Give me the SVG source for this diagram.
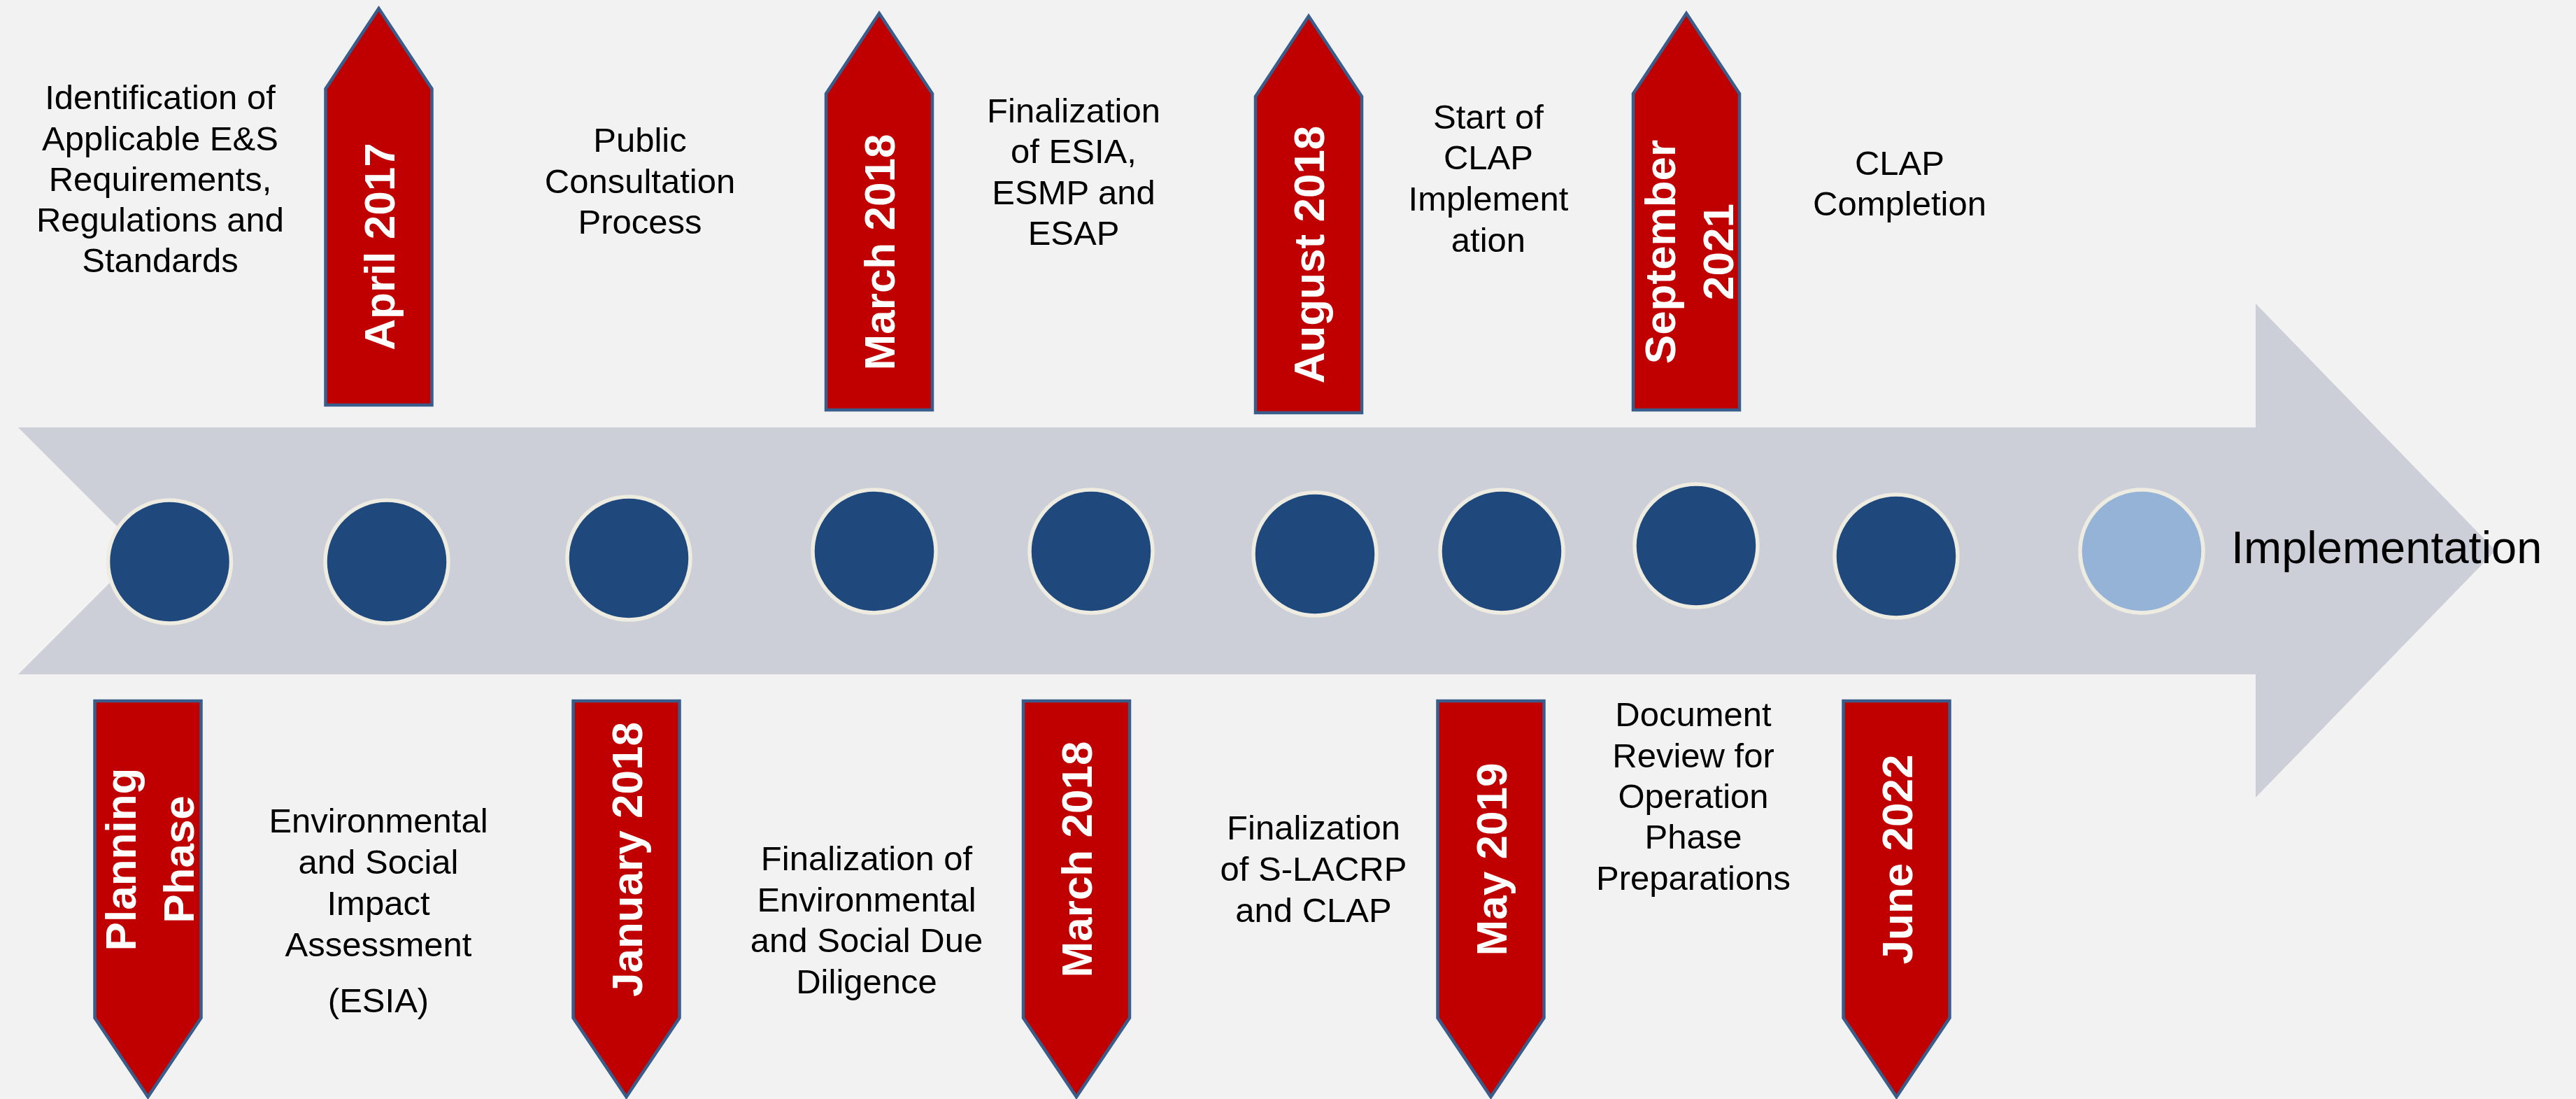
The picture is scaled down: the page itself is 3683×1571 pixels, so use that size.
<svg xmlns="http://www.w3.org/2000/svg" xmlns:xlink="http://www.w3.org/1999/xlink" width="3683" height="1571" viewBox="0 0 3683 1571">
  <style>
    .bg { fill: #F2F2F2; }
    .band { fill: #CCCFD8; }
    .dot { fill: #1F497D; stroke: #EEECE1; stroke-width: 5.5; }
    .dot-next { fill: #95B3D7; stroke: #EEECE1; stroke-width: 5.5; }
    .flag { fill: #C00000; stroke: #385D8A; stroke-width: 4.5; stroke-linejoin: miter; stroke-miterlimit: 10; }
    .date { font-family: "Liberation Sans", Arial, sans-serif; font-weight: bold; font-size: 62px; fill: #FFFFFF; text-anchor: middle; }
    .note { font-family: "Liberation Sans", Arial, sans-serif; font-size: 49px; fill: #000000; text-anchor: middle; }
    .goal { font-family: "Liberation Sans", Arial, sans-serif; font-size: 65px; fill: #000000; }
  </style>
  <defs>
    <!-- flag pointing up: tip at origin -->
    <path id="flag-up" d="M0,0 L76,115 L76,567 L-76,567 L-76,115 Z"/>
    <!-- flag pointing down: top edge at origin -->
    <path id="flag-down" d="M-76,0 L76,0 L76,453 L0,566 L-76,453 Z"/>
  </defs>

  <rect class="bg" x="0" y="0" width="3683" height="1571"/>

  <!-- timeline band with notched tail and arrow head -->
  <g id="connectors">
    <path id="timeline" class="band" d="M26,611 L3225,611 L3225,434 L3568,787 L3225,1140 L3225,964 L26,964 L202.5,787.5 Z"/>
  </g>

  <!-- milestone dots -->
  <g id="dot-1"><circle class="dot" cx="242.5" cy="803" r="88"/></g>
  <g id="dot-2"><circle class="dot" cx="553" cy="803" r="88"/></g>
  <g id="dot-3"><circle class="dot" cx="899" cy="798" r="88"/></g>
  <g id="dot-4"><circle class="dot" cx="1250" cy="788" r="88"/></g>
  <g id="dot-5"><circle class="dot" cx="1560" cy="788" r="88"/></g>
  <g id="dot-6"><circle class="dot" cx="1880" cy="792" r="88"/></g>
  <g id="dot-7"><circle class="dot" cx="2147" cy="788" r="88"/></g>
  <g id="dot-8"><circle class="dot" cx="2425" cy="780" r="88"/></g>
  <g id="dot-9"><circle class="dot" cx="2711" cy="795" r="88"/></g>
  <g id="dot-10"><circle class="dot-next" cx="3062" cy="788" r="88"/></g>

  <!-- upward date flags -->
  <g id="flag-apr-2017">
    <use xlink:href="#flag-up" href="#flag-up" class="flag" x="541.5" y="12"/>
    <text class="date" transform="translate(563.5,352.5) rotate(-90)">April 2017</text>
  </g>
  <g id="flag-mar-2018-top">
    <use xlink:href="#flag-up" href="#flag-up" class="flag" x="1257" y="19"/>
    <text class="date" transform="translate(1279,360.5) rotate(-90)">March 2018</text>
  </g>
  <g id="flag-aug-2018">
    <use xlink:href="#flag-up" href="#flag-up" class="flag" x="1871" y="23"/>
    <text class="date" transform="translate(1893,364) rotate(-90)">August 2018</text>
  </g>
  <g id="flag-sep-2021">
    <use xlink:href="#flag-up" href="#flag-up" class="flag" x="2411" y="19"/>
    <text class="date" transform="translate(2395,360) rotate(-90)"><tspan x="0" y="0">September</tspan><tspan x="0" dy="83">2021</tspan></text>
  </g>

  <!-- downward date flags -->
  <g id="flag-planning">
    <use xlink:href="#flag-down" href="#flag-down" class="flag" x="211.5" y="1002"/>
    <text class="date" transform="translate(194,1228.5) rotate(-90)"><tspan x="0" y="0">Planning</tspan><tspan x="0" dy="83">Phase</tspan></text>
  </g>
  <g id="flag-jan-2018">
    <use xlink:href="#flag-down" href="#flag-down" class="flag" x="895.5" y="1002"/>
    <text class="date" transform="translate(917.5,1228.5) rotate(-90)">January 2018</text>
  </g>
  <g id="flag-mar-2018-bottom">
    <use xlink:href="#flag-down" href="#flag-down" class="flag" x="1539" y="1002"/>
    <text class="date" transform="translate(1561,1228.5) rotate(-90)">March 2018</text>
  </g>
  <g id="flag-may-2019">
    <use xlink:href="#flag-down" href="#flag-down" class="flag" x="2131.5" y="1002"/>
    <text class="date" transform="translate(2153.5,1228.5) rotate(-90)">May 2019</text>
  </g>
  <g id="flag-jun-2022">
    <use xlink:href="#flag-down" href="#flag-down" class="flag" x="2711.5" y="1002"/>
    <text class="date" transform="translate(2733.5,1228.5) rotate(-90)">June 2022</text>
  </g>

  <!-- activity descriptions above the band -->
  <g id="note-requirements">
    <text class="note"><tspan x="229" y="156">Identification of</tspan><tspan x="229" y="214.5">Applicable E&amp;S</tspan><tspan x="229" y="273">Requirements,</tspan><tspan x="229" y="331">Regulations and</tspan><tspan x="229" y="389">Standards</tspan></text>
  </g>
  <g id="note-consultation">
    <text class="note"><tspan x="915" y="217">Public</tspan><tspan x="915" y="276">Consultation</tspan><tspan x="915" y="334">Process</tspan></text>
  </g>
  <g id="note-esia-final">
    <text class="note"><tspan x="1535" y="175">Finalization</tspan><tspan x="1535" y="233">of ESIA,</tspan><tspan x="1535" y="292">ESMP and</tspan><tspan x="1535" y="350">ESAP</tspan></text>
  </g>
  <g id="note-clap-start">
    <text class="note"><tspan x="2128" y="184">Start of</tspan><tspan x="2128" y="242">CLAP</tspan><tspan x="2128" y="301">Implement</tspan><tspan x="2128" y="360">ation</tspan></text>
  </g>
  <g id="note-clap-end">
    <text class="note"><tspan x="2716" y="250">CLAP</tspan><tspan x="2716" y="308">Completion</tspan></text>
  </g>

  <!-- activity descriptions below the band -->
  <g id="note-esia">
    <text class="note"><tspan x="541" y="1190">Environmental</tspan><tspan x="541" y="1249">and Social</tspan><tspan x="541" y="1308">Impact</tspan><tspan x="541" y="1367">Assessment</tspan><tspan x="541" y="1447">(ESIA)</tspan></text>
  </g>
  <g id="note-due-diligence">
    <text class="note"><tspan x="1239" y="1244">Finalization of</tspan><tspan x="1239" y="1302.5">Environmental</tspan><tspan x="1239" y="1361">and Social Due</tspan><tspan x="1239" y="1419.5">Diligence</tspan></text>
  </g>
  <g id="note-slacrp">
    <text class="note"><tspan x="1878" y="1200">Finalization</tspan><tspan x="1878" y="1259">of S-LACRP</tspan><tspan x="1878" y="1317.5">and CLAP</tspan></text>
  </g>
  <g id="note-operation">
    <text class="note"><tspan x="2421" y="1038">Document</tspan><tspan x="2421" y="1096.5">Review for</tspan><tspan x="2421" y="1155">Operation</tspan><tspan x="2421" y="1213">Phase</tspan><tspan x="2421" y="1272">Preparations</tspan></text>
  </g>

  <g id="note-implementation">
    <text class="goal" x="3190" y="805">Implementation</text>
  </g>
</svg>
